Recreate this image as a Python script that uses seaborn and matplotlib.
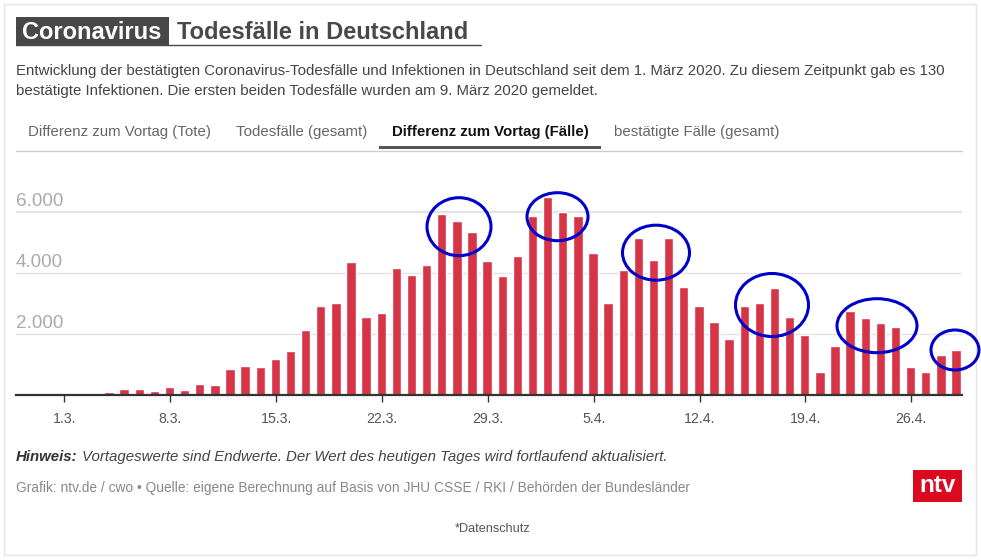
import matplotlib
matplotlib.use("Agg")
import matplotlib.pyplot as plt
from matplotlib.patches import Rectangle, Ellipse
import pandas as pd
import seaborn as sns

day_index = list(range(3, 60))
new_cases = [98, 197, 197, 131, 262, 164, 360, 328, 852, 951, 918, 1180, 1443, 2131, 2918,
             3017, 4361, 2558, 2689, 4164, 3935, 4263, 5935, 5705, 5345, 4394, 3902, 4558,
             5869, 6492, 6000, 5869, 4656, 3017, 4099, 5148, 4427, 5148, 3541, 2918, 2394,
             1836, 2918, 3017, 3509, 2558, 1967, 754, 1607, 2754, 2525, 2361, 2230, 918,
             754, 1312, 1476]
tick_days = [0, 7, 14, 21, 28, 35, 42, 49, 56]
tick_labels = ["1.3.", "8.3.", "15.3.", "22.3.", "29.3.", "5.4.", "12.4.", "19.4.", "26.4."]
y_ticks = [2000, 4000, 6000]
y_labels = ["2.000", "4.000", "6.000"]
tabs = ["Differenz zum Vortag (Tote)", "Todesfälle (gesamt)",
        "Differenz zum Vortag (Fälle)", "bestätigte Fälle (gesamt)"]

W, H = 981, 560
sns.set_theme(style="white")
plt.rcParams["font.family"] = ["Liberation Sans", "DejaVu Sans"]
fig = plt.figure(figsize=(W / 100, H / 100), dpi=100, facecolor="white")

# chart axes, in pixel placement
left, right, top, base = 16, 962, 150, 395
ax = fig.add_axes([left / W, 1 - base / H, (right - left) / W, (base - top) / H])
df = pd.DataFrame({"day": day_index, "cases": new_cases})
sns.barplot(data=df, x="day", y="cases", native_scale=True, width=0.62, color="#d63447",
            saturation=1, ax=ax, zorder=3)
px_per_day = 15.125
origin_px = 63.6
tick_shift = 0.05  # ticks sit slightly right of their bar in the reference
ax.set_xlim((left - origin_px) / px_per_day, (right - origin_px) / px_per_day)
ax.set_ylim(0, (base - top) / 0.0305)
ax.set_xlabel("")
ax.set_ylabel("")
ax.set_xticks([d + tick_shift for d in tick_days], tick_labels)
ax.set_yticks(y_ticks, [])
ax.tick_params(axis="x", length=5, width=1, color="#333333", pad=7,
               labelsize=10.2, labelcolor="#555555", bottom=True)
ax.tick_params(axis="y", length=0)
ax.grid(axis="y", color="#e3e3e3", lw=1, zorder=0)
ax.get_ygridlines()[2].set_linewidth(1.7)
ax.set_axisbelow(True)
for s in ("top", "left", "right"):
    ax.spines[s].set_visible(False)
ax.spines["bottom"].set_color("#333333")
ax.spines["bottom"].set_linewidth(1.6)
ax.spines["bottom"].set_zorder(6)
ax.patch.set_alpha(0)

# overlay in pixel coordinates for page furniture
ov = fig.add_axes([0, 0, 1, 1], zorder=5)
ov.set_xlim(0, W)
ov.set_ylim(H, 0)
ov.axis("off")

ov.add_patch(Rectangle((4, 4), 972, 551, fill=False, ec="#e4e4e4", lw=1))

# title
ov.add_patch(Rectangle((16, 17), 153, 28, fc="#484848", ec="none"))
ov.plot([16, 481], [44.5, 44.5], color="#484848", lw=1)
ov.text(22, 32.5, "Coronavirus", color="white", fontsize=17.05, fontweight="bold", va="center")
ov.text(177, 32.5, "Todesfälle in Deutschland", color="#484848", fontsize=17.05,
        fontweight="bold", va="center")

# subtitle
ov.text(16, 71, "Entwicklung der bestätigten Coronavirus-Todesfälle und Infektionen in Deutschland "
        "seit dem 1. März 2020. Zu diesem Zeitpunkt gab es 130", color="#444444",
        fontsize=10.8, va="center")
ov.text(16, 91, "bestätigte Infektionen. Die ersten beiden Todesfälle wurden am 9. März 2020 gemeldet.",
        color="#444444", fontsize=10.8, va="center")

# tabs
tab_x = [28, 236, 392, 614]
for i, (label, x) in enumerate(zip(tabs, tab_x)):
    active = i == 2
    ov.text(x, 136, label, color="#111111" if active else "#666666", fontsize=10.8,
            fontweight="bold" if active else "normal", va="baseline")
ov.plot([16, 962], [150.5, 150.5], color="#cccccc", lw=1)
ov.add_patch(Rectangle((379, 145.5), 222, 3.5, fc="#555555", ec="none"))

# y labels
for val, lab in zip(y_ticks, y_labels):
    ov.text(16, base - val * 0.0305 - 10.5, lab, color="#aaaaaa", fontsize=13.6, va="center")

# hand-drawn ellipses
ellipses = [(459, 226.7, 64, 58), (557.5, 216.7, 61, 48), (656, 252.7, 67, 55),
            (772, 305, 73, 63), (877, 325.7, 80, 54), (955, 350, 48, 40)]
for cx, cy, w, h in ellipses:
    ov.add_patch(Ellipse((cx, cy), w, h, fill=False, ec="#0000cc", lw=2.2))

# footer
ov.text(16, 461, "Hinweis:", color="#333333", fontsize=10.8, fontweight="bold",
        fontstyle="italic", va="baseline")
ov.text(82, 461, "Vortageswerte sind Endwerte. Der Wert des heutigen Tages wird fortlaufend aktualisiert.",
        color="#444444", fontsize=10.85, fontstyle="italic", va="baseline")
ov.text(16, 488, "Grafik: ntv.de / cwo • Quelle: eigene Berechnung auf Basis von JHU CSSE / RKI / Behörden der Bundesländer",
        color="#888888", fontsize=9.9, va="center")
ov.text(493, 529.5, "*Datenschutz", color="#555555", fontsize=9.05, va="center", ha="center")

# logo
ov.add_patch(Rectangle((913, 470), 49, 32, fc="#dc0a1e", ec="none"))
ov.text(937.5, 486, "ntv", color="white", fontsize=17.5, fontweight="bold", va="center", ha="center")

fig.savefig("out.png", dpi=100)
